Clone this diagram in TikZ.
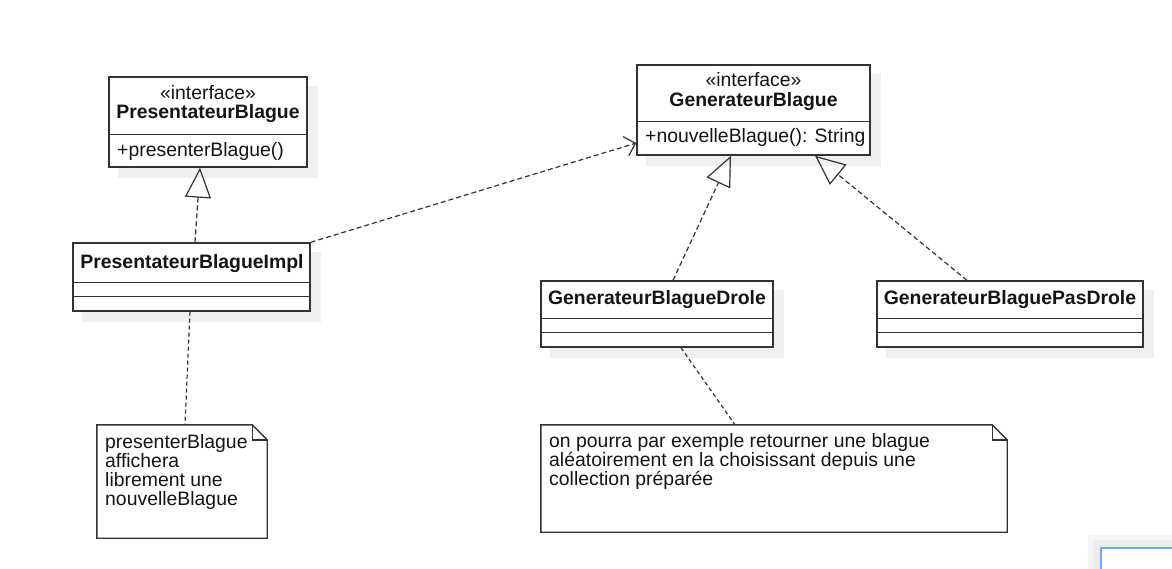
\documentclass[tikz,border=0pt]{standalone}
\usepackage{fontspec}
\setmainfont{Liberation Sans}
\usetikzlibrary{arrows.meta,calc,backgrounds}
\definecolor{ln}{HTML}{333333}
\definecolor{shd}{HTML}{EFEFEF}
\definecolor{uiblue}{HTML}{6FA8FF}
\begin{document}
\begin{tikzpicture}[x=1pt,y=-1pt,
  cls/.style={draw=ln, line width=1.4pt, fill=white, inner sep=0pt, rectangle},
  txt/.style={inner sep=0pt, text=black!92, font=\fontsize{19.4}{19}\selectfont},
  btxt/.style={txt, font=\fontsize{19.4}{19}\selectfont\bfseries},
  notebox/.style={rectangle, inner sep=0pt},
  realiz/.style={draw=ln, line width=1.2pt, dash pattern=on 5pt off 3pt,
    -{Triangle[open, length=30pt, width=26pt, line width=1.2pt]}},
  depend/.style={draw=ln, line width=1.2pt, dash pattern=on 5pt off 3pt,
    -{Straight Barb[length=10pt, width=20pt, line width=1.2pt]}},
  notelink/.style={draw=ln, line width=1.2pt, dash pattern=on 4pt off 3pt},
  divider/.style={draw=ln, line width=1.4pt},
  noteline/.style={draw=ln, line width=1.4pt}
]
\useasboundingbox (0,0) rectangle (1172,569);

% class boxes
\node[cls, minimum width=198pt, minimum height=90pt] (pb) at (208,122) {};
\node[cls, minimum width=233pt, minimum height=90pt] (gb) at (753.5,110) {};
\node[cls, minimum width=237pt, minimum height=68pt] (impl) at (191.5,277) {};
\node[cls, minimum width=232pt, minimum height=66pt] (drole) at (657,314) {};
\node[cls, minimum width=266pt, minimum height=66pt] (pasdrole) at (1010,314) {};
\node[notebox, minimum width=170pt, minimum height=113pt] (note1) at (182,481.5) {};
\node[notebox, minimum width=466pt, minimum height=107pt] (note2) at (774,478.5) {};

% background and shadows
\begin{scope}[on background layer]
  \fill[white] (0,0) rectangle (1172,569);
  \foreach \n in {pb,gb,impl,drole,pasdrole}{
    \fill[shd] ($(\n.north west)+(10,10)$) rectangle ($(\n.south east)+(10,10)$);
  }
  % UI artifact bottom right
  \fill[black!4] (1088,535) rectangle (1172,569);
  \fill[black!7] (1093,540) rectangle (1172,569);
\end{scope}
\draw[uiblue, line width=2pt, fill=white] (1101,548) rectangle (1180,580);

% dividers
\draw[divider] ($(pb.north west)+(0,58)$) -- ($(pb.north east)+(0,58)$);
\draw[divider] ($(gb.north west)+(0,57)$) -- ($(gb.north east)+(0,57)$);
\draw[divider] ($(impl.north west)+(0,40)$) -- ($(impl.north east)+(0,40)$);
\draw[divider] ($(impl.north west)+(0,54)$) -- ($(impl.north east)+(0,54)$);
\draw[divider] ($(drole.north west)+(0,38)$) -- ($(drole.north east)+(0,38)$);
\draw[divider] ($(drole.north west)+(0,52)$) -- ($(drole.north east)+(0,52)$);
\draw[divider] ($(pasdrole.north west)+(0,38)$) -- ($(pasdrole.north east)+(0,38)$);
\draw[divider] ($(pasdrole.north west)+(0,52)$) -- ($(pasdrole.north east)+(0,52)$);

% class texts
\node[txt] (pbst) at (208,93) {«interface»};
\node[btxt] (pbname) at (208,114) {PresentateurBlague};
\node[txt, anchor=west] (pbop) at (117,151) {+presenterBlague()};
\node[txt] (gbst) at (753.5,80) {«interface»};
\node[btxt] (gbname) at (753.5,102) {GenerateurBlague};
\node[txt, anchor=west] (gbop) at (645,137) {+nouvelleBlague(): String};
\node[btxt] (implname) at (192,264) {PresentateurBlagueImpl};
\node[btxt] (drolename) at (657,300) {GenerateurBlagueDrole};
\node[btxt] (pasdrolename) at (1010,300) {GenerateurBlaguePasDrole};

% notes outline
\draw[noteline] (note1.north west) -- ($(note1.north east)+(-15,0)$) -- ($(note1.north east)+(0,15)$) -- (note1.south east) -- (note1.south west) -- cycle;
\draw[noteline] ($(note1.north east)+(-15,0)$) -- ($(note1.north east)+(-15,15)$) -- ($(note1.north east)+(0,15)$);
\draw[noteline] (note2.north west) -- ($(note2.north east)+(-15,0)$) -- ($(note2.north east)+(0,15)$) -- (note2.south east) -- (note2.south west) -- cycle;
\draw[noteline] ($(note2.north east)+(-15,0)$) -- ($(note2.north east)+(-15,15)$) -- ($(note2.north east)+(0,15)$);

\node[txt, anchor=north west, align=left] (n1text) at (105,434) {presenterBlague\\affichera\\librement une\\nouvelleBlague};
\node[txt, anchor=north west, align=left] (n2text) at (549,433) {on pourra par exemple retourner une blague\\aléatoirement en la choisissant depuis une\\collection préparée};

% connectors
\draw[realiz] ([xshift=3.5pt]impl.north) -- ([xshift=-8pt]pb.south);
\draw[depend] (impl.north east) -- ([yshift=-33pt]gb.west);
\draw[realiz] ([xshift=16pt]drole.north) -- ([xshift=-22.5pt]gb.south);
\draw[realiz] ([xshift=-43pt]pasdrole.north) -- ([xshift=61.5pt]gb.south);
\draw[notelink] ([xshift=-1.5pt]impl.south) -- ([xshift=3pt]note1.north);
\draw[notelink] ([xshift=24pt]drole.south) -- ([xshift=-39pt]note2.north);
\end{tikzpicture}
\end{document}
